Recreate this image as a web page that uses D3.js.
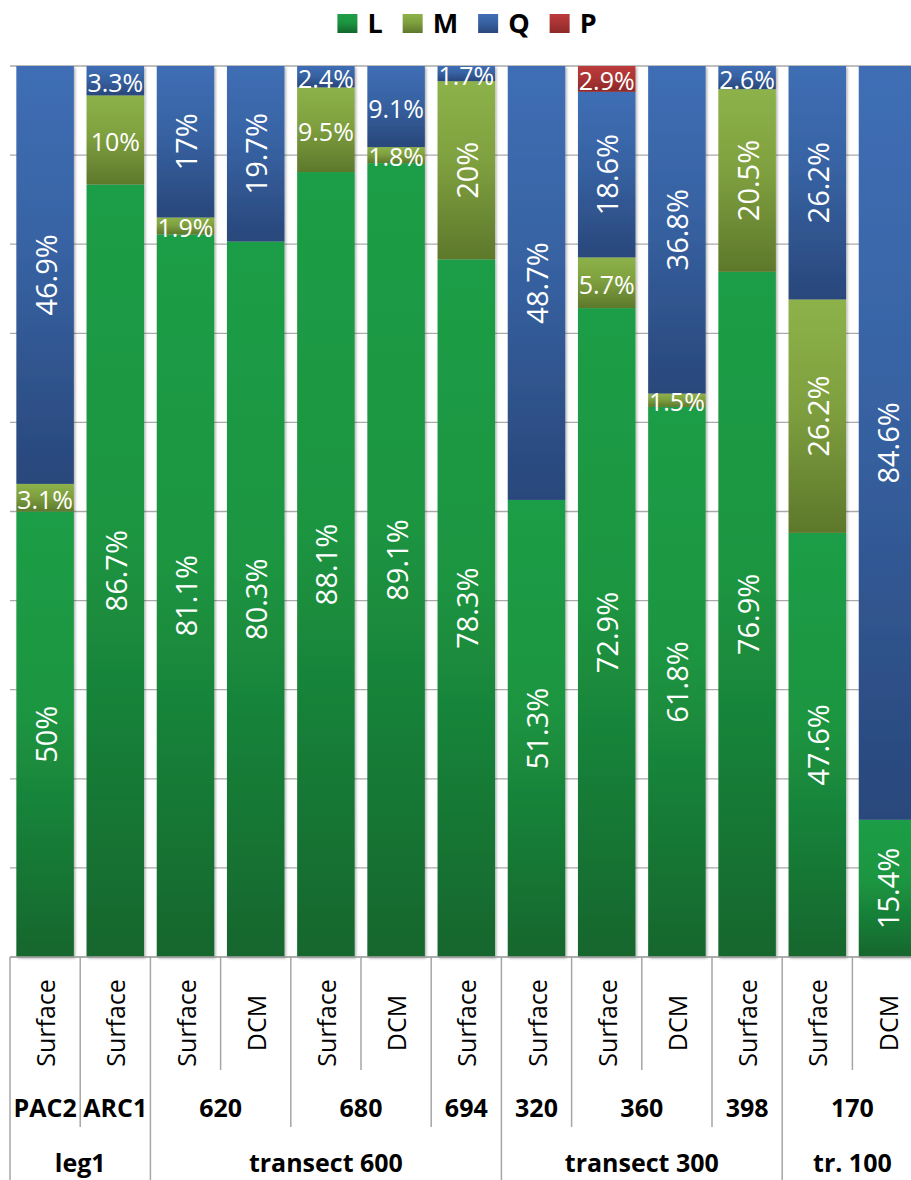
<!DOCTYPE html>
<html>
<head>
<meta charset="utf-8">
<script src="https://cdn.jsdelivr.net/npm/d3@7"></script>
<style>
  html, body { margin: 0; padding: 0; background: #fff; }
  svg { display: block; font-family: "Open Sans", "DejaVu Sans", sans-serif; }
</style>
</head>
<body>
<svg id="chart" width="911" height="1180"></svg>
<script>
// ---------- data ----------
const sampleTypes = ["Surface","Surface","Surface","DCM","Surface","DCM","Surface","Surface","Surface","DCM","Surface","Surface","DCM"];
const stationNames = ["PAC2","ARC1","620","680","694","320","360","398","170"];
const stationSpans = [1,1,2,2,1,1,2,1,2];
const regionNames = ["leg1","transect 600","transect 300","tr. 100"];
const regionSpans = [2,5,4,2];

const seriesNames = ["L","M","Q","P"];
const valuesL = [50, 86.7, 81.1, 80.3, 88.1, 89.1, 78.3, 51.3, 72.9, 61.8, 76.9, 47.6, 15.4];
const valuesM = [3.1, 10, 1.9, 0, 9.5, 1.8, 20, 0, 5.7, 1.5, 20.5, 26.2, 0];
const valuesQ = [46.9, 3.3, 17, 19.7, 2.4, 9.1, 1.7, 48.7, 18.6, 36.8, 2.6, 26.2, 84.6];
const valuesP = [0, 0, 0, 0, 0, 0, 0, 0, 2.9, 0, 0, 0, 0];

// ---------- styles ----------
const gradStops = {
  L: [["0%","#1f9d46"],["45%","#1c9541"],["100%","#13662d"]],
  M: [["0%","#8db249"],["45%","#7fa03f"],["100%","#5d782b"]],
  Q: [["0%","#3f6eb5"],["45%","#3762a2"],["100%","#29477b"]],
  P: [["0%","#bc3b3b"],["45%","#ab3434"],["100%","#8c2929"]]
};
const rotateMin = 12;

// ---------- build ----------
const table = sampleTypes.map((s, i) => ({
  idx: i, L: valuesL[i], M: valuesM[i], Q: valuesQ[i], P: valuesP[i]
}));
const stack = d3.stack().keys(seriesNames).offset(d3.stackOffsetExpand);
const layers = stack(table);

const svg = d3.select("#chart");
const plotTop = 66, plotBottom = 957, plotLeft = 10, step = 70.2;
const plotRight = plotLeft + step * sampleTypes.length;

const x = d3.scaleBand().domain(d3.range(sampleTypes.length)).range([plotLeft, plotRight]).padding(0);
const barW = 57.5;
const y = d3.scaleLinear().domain([0, 1]).range([plotBottom, plotTop]);

const defs = svg.append("defs");
seriesNames.forEach(k => {
  const g = defs.append("linearGradient").attr("id", "grad-" + k)
    .attr("x1", 0).attr("y1", 0).attr("x2", 0).attr("y2", 1);
  gradStops[k].forEach(([o, c]) => g.append("stop").attr("offset", o).attr("stop-color", c));
});
const f = defs.append("filter").attr("id", "shadow").attr("x", "-10%").attr("y", "-5%").attr("width", "130%").attr("height", "115%");
f.append("feDropShadow").attr("dx", 1.5).attr("dy", 1.5).attr("stdDeviation", 1.2)
  .attr("flood-color", "#000").attr("flood-opacity", 0.3);
defs.append("clipPath").attr("id", "plotclip").append("rect")
  .attr("x", 0).attr("y", plotTop).attr("width", plotRight).attr("height", plotBottom - plotTop);

// gridlines
svg.append("g").selectAll("line").data(y.ticks(10)).join("line")
  .attr("x1", plotLeft).attr("x2", plotRight)
  .attr("y1", d => y(d)).attr("y2", d => y(d))
  .attr("stroke", "#aaaaaa").attr("stroke-width", 1.3);

// bars
const barG = svg.append("g").selectAll("g.bar").data(table).join("g")
  .attr("class", "bar").attr("filter", "url(#shadow)");
barG.each(function(d, i) {
  const g = d3.select(this);
  layers.forEach(layer => {
    const seg = layer[i];
    if (d[layer.key] <= 0) return;
    g.append("rect")
      .attr("x", x(i) + (x.bandwidth() - barW) / 2)
      .attr("width", barW)
      .attr("y", y(seg[1]))
      .attr("height", y(seg[0]) - y(seg[1]))
      .attr("fill", "url(#grad-" + layer.key + ")");
  });
});

// labels
const labelG = svg.append("g").attr("clip-path", "url(#plotclip)");
layers.forEach(layer => {
  layer.forEach((seg, i) => {
    const v = table[i][layer.key];
    if (v <= 0) return;
    const cx = x(i) + x.bandwidth() / 2;
    const cy = (y(seg[0]) + y(seg[1])) / 2;
    const t = labelG.append("text")
      .attr("fill", "#fff")
      .attr("text-anchor", "middle")
      .attr("dominant-baseline", "central")
      .text(v + "%");
    if (v >= rotateMin) {
      t.attr("font-size", 29).attr("transform", `translate(${cx},${cy}) rotate(-90)`);
    } else {
      t.attr("font-size", 25).attr("x", cx).attr("y", cy + 1);
    }
  });
});

// category axis
const axisG = svg.append("g");
axisG.append("line").attr("x1", plotLeft).attr("x2", plotRight)
  .attr("y1", plotBottom).attr("y2", plotBottom)
  .attr("stroke", "#a6a6a6").attr("stroke-width", 1.5);

const stationBounds = new Set(d3.cumsum(stationSpans));
const regionBounds = new Set(d3.cumsum(regionSpans));
const bounds = d3.range(sampleTypes.length + 1);
axisG.selectAll("line.div").data(bounds).join("line").attr("class", "div")
  .attr("x1", b => b === sampleTypes.length ? plotRight : x(b))
  .attr("x2", b => b === sampleTypes.length ? plotRight : x(b))
  .attr("y1", plotBottom)
  .attr("y2", b => (b === 0 || regionBounds.has(b)) ? 1180 : stationBounds.has(b) ? 1127 : 1070)
  .attr("stroke", "#a6a6a6").attr("stroke-width", 1.5);

axisG.selectAll("text.lvl1").data(sampleTypes).join("text").attr("class", "lvl1")
  .attr("transform", (d, i) => `translate(${x(i) + x.bandwidth() / 2},1023) rotate(-90)`)
  .attr("text-anchor", "middle").attr("dominant-baseline", "central")
  .attr("font-size", 25).attr("fill", "#000").text(d => d);

function spanCenters(spans) {
  let start = 0;
  return spans.map(n => { const c = (x(start) + x(start + n - 1) + x.bandwidth()) / 2; start += n; return c; });
}
const stCenters = spanCenters(stationSpans);
axisG.selectAll("text.lvl2").data(stationNames).join("text").attr("class", "lvl2")
  .attr("x", (d, i) => stCenters[i]).attr("y", 1117)
  .attr("text-anchor", "middle").attr("font-size", 25).attr("font-weight", "bold")
  .attr("fill", "#000").text(d => d);
const rgCenters = spanCenters(regionSpans);
axisG.selectAll("text.lvl3").data(regionNames).join("text").attr("class", "lvl3")
  .attr("x", (d, i) => rgCenters[i]).attr("y", 1172)
  .attr("text-anchor", "middle").attr("font-size", 25).attr("font-weight", "bold")
  .attr("fill", "#000").text(d => d);

// legend
const legend = svg.append("g");
const items = legend.selectAll("g").data(seriesNames).join("g");
items.append("rect").attr("width", 20).attr("height", 19).attr("y", 14)
  .attr("fill", d => "url(#grad-" + d + ")");
items.append("text").attr("x", 30).attr("y", 33).attr("font-size", 27)
  .attr("font-weight", "bold").attr("fill", "#000").text(d => d);
let lx = 0;
const pos = [];
items.each(function() {
  pos.push(lx);
  const w = d3.select(this).select("text").node().getComputedTextLength();
  lx += 30 + w + 20;
});
const total = lx - 20;
const startX = 467 - total / 2;
items.attr("transform", (d, i) => `translate(${startX + pos[i]},0)`);
</script>
</body>
</html>
